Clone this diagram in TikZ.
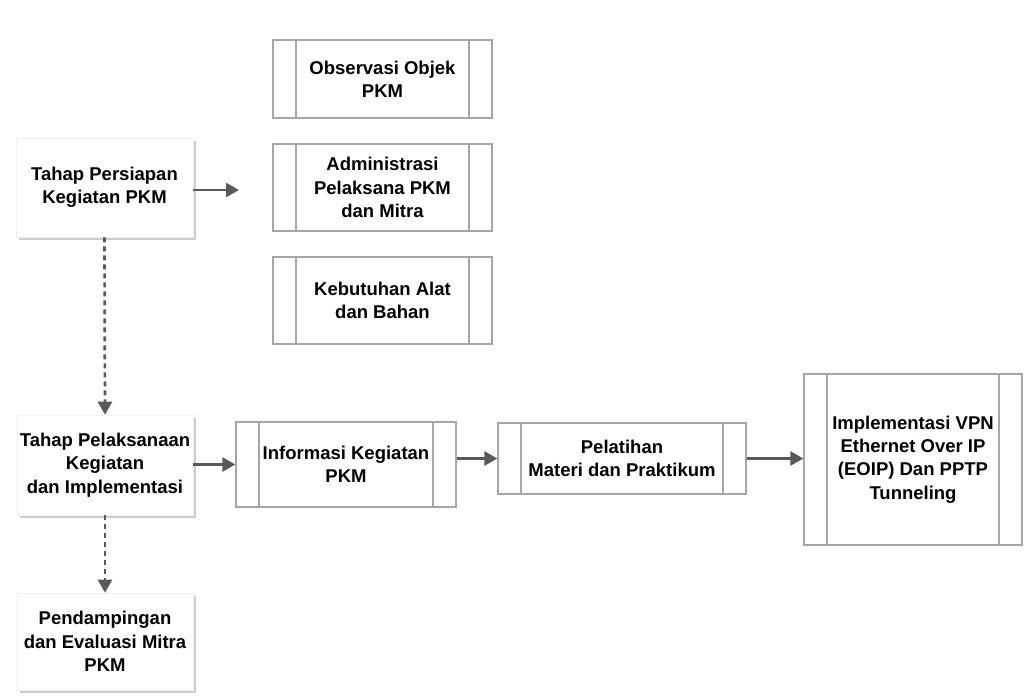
\documentclass[tikz,border=0pt]{standalone}
\usepackage{fontspec}
\setmainfont{Liberation Sans}
\usetikzlibrary{arrows.meta,shadows}
\definecolor{boxgray}{HTML}{A6A6A6}
\definecolor{arrowgray}{HTML}{595959}
\begin{document}
\begin{tikzpicture}[x=1pt,y=-1pt,
  every node/.style={inner sep=0pt, align=center, font=\bfseries\fontsize{18.5}{23.3}\selectfont},
  stagebox/.style={fill=white, draw=black!6, line width=0.6pt,
    drop shadow={shadow xshift=3pt, shadow yshift=-3pt, fill=black!40, opacity=0.5}},
  procbox/.style={draw=boxgray, line width=1.3pt, fill=white,
    path picture={
      \draw[boxgray, line width=1.3pt]
        ([xshift=23pt]path picture bounding box.north west) -- ([xshift=23pt]path picture bounding box.south west)
        ([xshift=-23pt]path picture bounding box.north east) -- ([xshift=-23pt]path picture bounding box.south east);
    }},
  flow/.style={draw=arrowgray, line width=2.7pt, -{Triangle[length=13pt,width=14pt]}},
  dflow/.style={flow, dash pattern=on 5pt off 4pt}
]
\useasboundingbox (0,0) rectangle (1035,698);

% stage boxes
\node[stagebox, minimum width=177pt, minimum height=99pt] (prep) at (104.5,187.5) {Tahap Persiapan\\Kegiatan PKM};
\node[stagebox, minimum width=176pt, minimum height=100pt] (impl) at (105,465) {Tahap Pelaksanaan\\Kegiatan\\dan Implementasi};
\node[stagebox, minimum width=176pt, minimum height=97pt] (eval) at (105,641.5) {Pendampingan\\dan Evaluasi Mitra\\PKM};

% preparation sub-processes
\node[procbox, minimum width=219pt, minimum height=78pt] (obs) at (382.5,79) {Observasi Objek\\PKM};
\node[procbox, minimum width=219pt, minimum height=87pt] (adm) at (382.5,187.5) {Administrasi\\Pelaksana PKM\\dan Mitra};
\node[procbox, minimum width=219pt, minimum height=87pt] (keb) at (382.5,300.5) {Kebutuhan Alat\\dan Bahan};

% implementation chain
\node[procbox, minimum width=220pt, minimum height=85pt] (info) at (346,464.5) {Informasi Kegiatan\\PKM};
\node[procbox, minimum width=248pt, minimum height=71pt] (pel) at (622,458.5) {Pelatihan\\Materi dan Praktikum};
\node[procbox, minimum width=218pt, minimum height=171pt] (vpn) at (913,459.5) {Implementasi VPN\\Ethernet Over IP\\(EOIP) Dan PPTP\\Tunneling};

% connectors
\coordinate (prepend) at (239,190);
\draw[flow] (prep.east |- prepend) -- (prepend);
\draw[dflow] (prep.south) -- (impl.north);
\draw[dflow] (impl.south) -- (eval.north);
\draw[flow] (impl.east |- info.west) -- (info.west);
\draw[flow] (info.east |- pel.west) -- (pel.west);
\draw[flow] (pel.east) -- (vpn.west |- pel.east);
\end{tikzpicture}
\end{document}
